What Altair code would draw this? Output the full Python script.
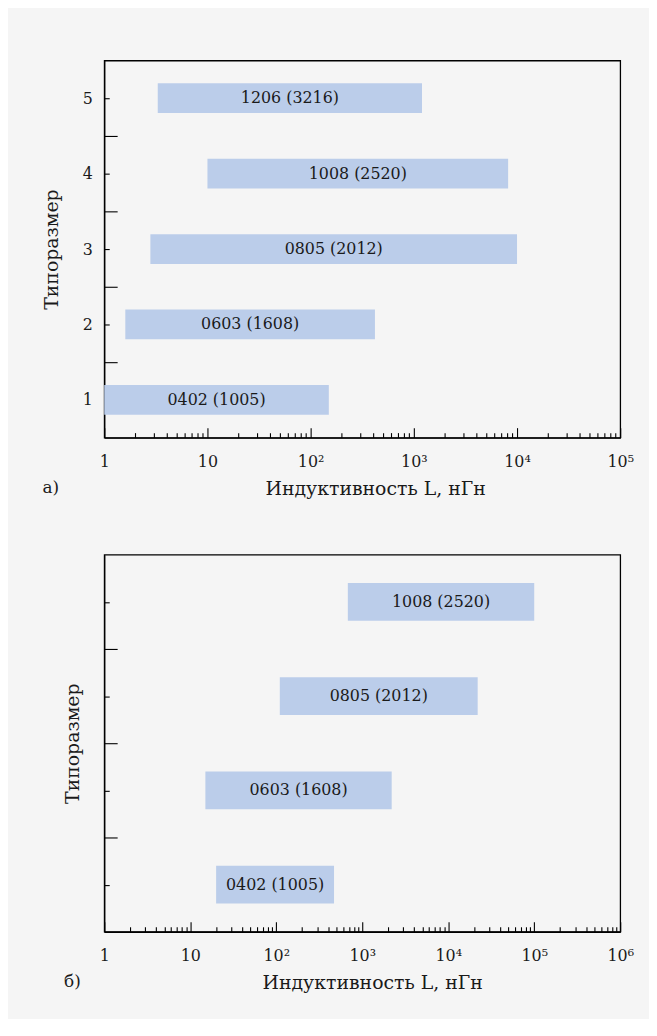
import altair as alt
import pandas as pd

FONT = "DejaVu Serif"
BAR = "#bbcdea"
INK = "#1a1a1a"

# ---- data: panel a)
top_sizes = ["0402 (1005)", "0603 (1608)", "0805 (2012)", "1008 (2520)", "1206 (3216)"]
top_rank = [1, 2, 3, 4, 5]
top_low = [1, 1.6, 2.8, 10, 3.3]
top_high = [150, 420, 10000, 8200, 1200]

# ---- data: panel б)
bot_sizes = ["0402 (1005)", "0603 (1608)", "0805 (2012)", "1008 (2520)"]
bot_rank = [1, 2, 3, 4]
bot_low = [20, 15, 110, 680]
bot_high = [470, 2200, 22000, 100000]

# ---- tick values
top_decades = [1, 10, 100, 1000, 10000]
bot_decades = [1, 10, 100, 1000, 10000, 100000]
top_xticks = [m * d for d in top_decades for m in range(1, 10)] + [100000]
bot_xticks = [m * d for d in bot_decades for m in range(1, 10)] + [1000000]
top_yticks = [1, 1.5, 2, 2.5, 3, 3.5, 4, 4.5, 5]
bot_yticks = [1, 1.5, 2, 2.5, 3, 3.5, 4]

XTITLE = "Индуктивность L, нГн"
YTITLE = "Типоразмер"

EXP = "round(log(datum.value)/LN10)"
MAJOR = f"abs(log(datum.value)/LN10 - {EXP}) < 0.000001"
XLABEL = (f"{MAJOR} ? ({EXP} == 0 ? '1' : ({EXP} == 1 ? '10' : "
          f"'10' + ['⁰','¹','²','³','⁴','⁵','⁶'][{EXP}])) : ''")


def x_axis(values, title_x):
    return alt.Axis(
        values=values, title=XTITLE, labelExpr=XLABEL,
        tickSize={"expr": f"{MAJOR} ? -10 : -5"},
        labelPadding=26, labelFlush=False, labelOverlap=False,
        titlePadding=5, titleX=title_x, grid=False,
    )


def y_axis(values, show_labels):
    return alt.Axis(
        values=values, title=YTITLE,
        labels=show_labels,
        labelExpr="datum.value % 1 == 0 ? toString(datum.value) : ''",
        tickSize={"expr": "datum.value % 1 == 0 ? -5 : -13"},
        labelPadding=17, labelOverlap=False,
        titlePadding=21, grid=False,
    )


def panel(sizes, rank, low, high, xdom, xticks, ydom, yticks, show_ylabels,
          bar_size, tag, title_x):
    df = pd.DataFrame({"size": sizes, "rank": rank, "low": low, "high": high})
    xs = alt.Scale(type="log", domain=xdom, nice=False, padding=0)
    ys = alt.Scale(domain=ydom, nice=False, zero=False, padding=0)
    xa = x_axis(xticks, title_x)
    ya = y_axis(yticks, show_ylabels)
    base = alt.Chart(df)
    bars = base.mark_bar(color=BAR, size=bar_size).encode(
        x=alt.X("low:Q", scale=xs, axis=xa),
        x2="high:Q",
        y=alt.Y("rank:Q", scale=ys, axis=ya),
    )
    labels = base.transform_calculate(
        mid="sqrt(datum.low * datum.high)"
    ).mark_text(font=FONT, fontSize=16, color=INK).encode(
        x=alt.X("mid:Q", scale=xs, axis=xa),
        y=alt.Y("rank:Q", scale=ys, axis=ya),
        text="size:N",
    )
    return alt.layer(bars, labels).properties(
        width=520, height=380,
        title=alt.TitleParams(text=tag, orient="bottom", anchor="start",
                              frame="bounds", offset=-18),
    )


top = panel(top_sizes, top_rank, top_low, top_high, [1, 100000], top_xticks,
            [0.5, 5.5], top_yticks, True, 30, "а)", 273)
bottom = panel(bot_sizes, bot_rank, bot_low, bot_high, [1, 1000000], bot_xticks,
               [0.5, 4.5], bot_yticks, False, 38, "б)", 270)

chart = alt.vconcat(top, bottom, spacing=55).properties(
    padding={"left": 34, "top": 48, "right": 14, "bottom": 22},
    background="#f5f5f5",
).configure_view(
    stroke="black", strokeWidth=1.3
).configure_axis(
    domainColor="black", domainWidth=1.3, tickColor="black", tickWidth=1.1,
    labelFont=FONT, titleFont=FONT, labelFontSize=16, titleFontSize=19,
    titleFontWeight="normal", labelColor=INK, titleColor=INK,
).configure_title(
    font=FONT, fontSize=17, fontWeight="normal", color=INK
).configure_scale(
    continuousPadding=0
)

chart.save("out.html", embed_options={"renderer": "svg", "actions": False})
